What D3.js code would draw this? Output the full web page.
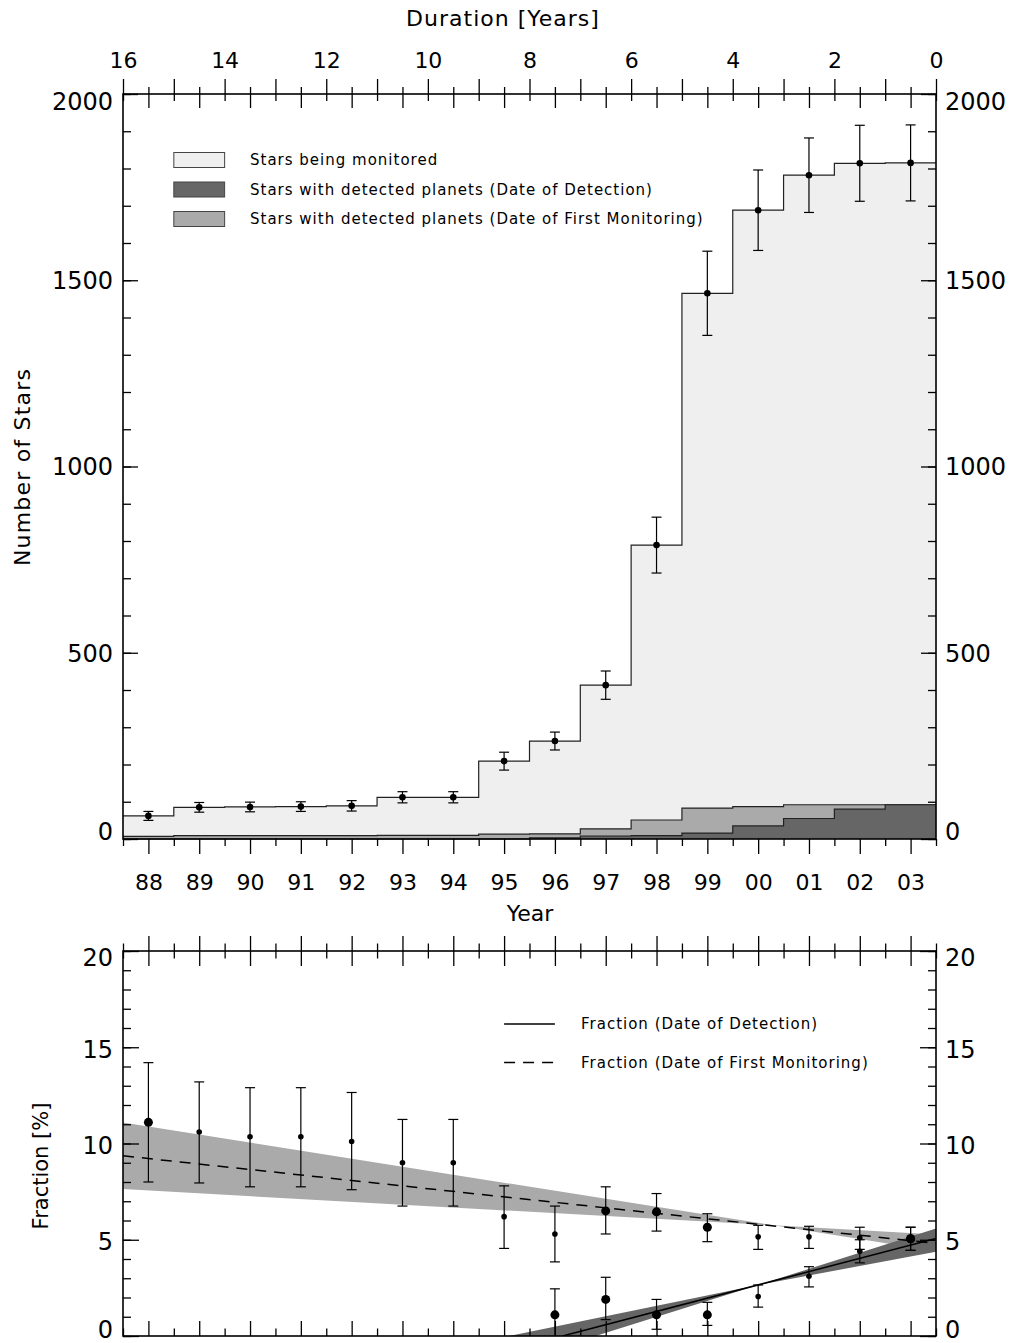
<!DOCTYPE html>
<html>
<head>
<meta charset="utf-8">
<script src="https://cdn.jsdelivr.net/npm/d3@7"></script>
<style>
body { margin: 0; background: #fff; }
text { font-family: "DejaVu Sans", sans-serif; fill: #000; }
</style>
</head>
<body>
<script>
// year bins (19xx / 20xx as 88..103)
var years = [88, 89, 90, 91, 92, 93, 94, 95, 96, 97, 98, 99, 100, 101, 102, 103];
var yearLabels = ["88", "89", "90", "91", "92", "93", "94", "95", "96", "97", "98", "99", "00", "01", "02", "03"];

// top panel: counts
var monitored    = [62, 85, 86, 87, 89, 112, 112, 209, 263, 413, 789, 1465, 1688, 1782, 1814, 1815];
var monitoredErr = [12, 13, 13, 13, 14, 15, 15, 24, 24, 38, 75, 113, 108, 100, 102, 102];
var firstMon     = [7, 9, 9, 9, 9, 10, 10, 13, 14, 27, 51, 83, 87, 92, 92, 92];
var detected     = [0, 0, 0, 0, 0, 0, 0, 0, 3, 8, 9, 16, 35, 55, 80, 92];

// bottom panel: fractions [%]
var fracMon   = [11.1, 10.6, 10.35, 10.35, 10.1, 9.0, 9.0, 6.2, 5.3, 6.5, 6.45, 5.65, 5.15, 5.15, 5.1, 5.05];
var fracMonHi = [14.2, 13.2, 12.9, 12.9, 12.65, 11.25, 11.25, 7.8, 6.75, 7.75, 7.4, 6.35, 5.75, 5.7, 5.65, 5.65];
var fracMonLo = [8.0, 7.95, 7.75, 7.75, 7.6, 6.75, 6.75, 4.55, 3.85, 5.3, 5.45, 4.9, 4.5, 4.55, 4.5, 4.45];
var bigMon = [88, 97, 98, 99, 103];

var detYears  = [96, 97, 98, 99, 100, 101, 102, 103];
var fracDet   = [1.1, 1.9, 1.1, 1.1, 2.05, 3.1, 4.4, 5.05];
var fracDetHi = [2.45, 3.05, 1.9, 1.75, 2.65, 3.6, 5.0, 5.65];
var fracDetLo = [-0.25, 0.85, 0.35, 0.55, 1.5, 2.55, 3.8, 4.45];
var bigDet = [96, 97, 98, 99, 103];

// fitted trends and their bands (year, percent)
var monFit      = [[87.5, 9.36], [103.5, 4.81]];
var monBandUp   = [[87.5, 11.09], [100.3, 5.75], [103.5, 5.27]];
var monBandLow  = [[87.5, 7.63], [100.3, 5.75], [103.5, 4.4]];
var detFit      = [[96.15, 0], [103.5, 5.07]];
var detBandUp   = [[95.1, 0], [100.0, 2.65], [103.5, 5.58]];
var detBandLow  = [[96.8, 0], [100.0, 2.65], [103.5, 4.38]];

var countTicks = [0, 500, 1000, 1500, 2000];
var fracTicks = [0, 5, 10, 15, 20];
var durTicks = [16, 14, 12, 10, 8, 6, 4, 2, 0];

var topLegend = ["Stars being monitored",
  "Stars with detected planets (Date of Detection)",
  "Stars with detected planets (Date of First Monitoring)"];
var topLegendFill = ["#efefef", "#666666", "#aaaaaa"];
var botLegend = ["Fraction (Date of Detection)", "Fraction (Date of First Monitoring)"];

var W = 1012, H = 1343;
var svg = d3.select("body").append("svg").attr("width", W).attr("height", H);

var x = d3.scaleLinear().domain([87.5, 103.5]).range([123, 936]);
var dur = d3.scaleLinear().domain([16, 0]).range([123, 936]);
var yTop = d3.scaleLinear().domain([0, 2000]).range([839, 94]);
var yBot = d3.scaleLinear().domain([0, 20]).range([1336, 951]);

var edges = d3.range(87.5, 104, 1);
var halfDur = d3.range(0.5, 16, 1);
var intDur = d3.range(0, 17, 1);

function noDomain(g) { g.select(".domain").remove(); g.selectAll("line").attr("stroke", "#000").attr("stroke-width", 1.3); }

// ---------- top panel ----------
function stepData(vals) {
  var d = years.map(function(y, i) { return { x: y - 0.5, v: vals[i] }; });
  d.push({ x: 103.5, v: vals[vals.length - 1] });
  return d;
}
var area = d3.area().curve(d3.curveStepAfter)
  .x(function(d) { return x(d.x); }).y0(yTop(0)).y1(function(d) { return yTop(d.v); });
var line = d3.line().curve(d3.curveStepAfter)
  .x(function(d) { return x(d.x); }).y(function(d) { return yTop(d.v); });

[[monitored, "#efefef"], [firstMon, "#aaaaaa"], [detected, "#666666"]].forEach(function(s) {
  svg.append("path").attr("d", area(stepData(s[0]))).attr("fill", s[1]);
  svg.append("path").attr("d", line(stepData(s[0]))).attr("fill", "none")
    .attr("stroke", "#222").attr("stroke-width", 1.2);
});

// error bars on monitored counts
var eb = svg.append("g").attr("stroke", "#000").attr("stroke-width", 1.2);
years.forEach(function(y, i) {
  var cx = x(y), lo = yTop(monitored[i] - monitoredErr[i]), hi = yTop(monitored[i] + monitoredErr[i]);
  eb.append("line").attr("x1", cx).attr("x2", cx).attr("y1", lo).attr("y2", hi);
  eb.append("line").attr("x1", cx - 5).attr("x2", cx + 5).attr("y1", lo).attr("y2", lo);
  eb.append("line").attr("x1", cx - 5).attr("x2", cx + 5).attr("y1", hi).attr("y2", hi);
  svg.append("circle").attr("cx", cx).attr("cy", yTop(monitored[i])).attr("r", 3.3).attr("fill", "#000");
});

// frame
svg.append("rect").attr("x", 123).attr("y", 94).attr("width", 813).attr("height", 745)
  .attr("fill", "none").attr("stroke", "#000").attr("stroke-width", 1.6);

// bottom year axis (outward)
svg.append("g").attr("transform", "translate(0,839)")
  .call(d3.axisBottom(x).tickValues(years).tickSize(15).tickPadding(20)
    .tickFormat(function(d, i) { return yearLabels[i]; }))
  .call(noDomain).selectAll("text").attr("font-size", 22);
svg.append("g").attr("transform", "translate(0,839)")
  .call(d3.axisBottom(x).tickValues(edges).tickSize(7).tickFormat("")).call(noDomain);

// top: year ticks inward, duration ticks outward
svg.append("g").attr("transform", "translate(0,94)")
  .call(d3.axisTop(x).tickValues(years).tickSize(-14).tickFormat("")).call(noDomain);
svg.append("g").attr("transform", "translate(0,94)")
  .call(d3.axisTop(x).tickValues(edges).tickSize(-7).tickFormat("")).call(noDomain);
svg.append("g").attr("transform", "translate(0,94)")
  .call(d3.axisTop(dur).tickValues(intDur).tickSize(15).tickFormat("")).call(noDomain);
svg.append("g").attr("transform", "translate(0,94)")
  .call(d3.axisTop(dur).tickValues(halfDur).tickSize(7).tickFormat("")).call(noDomain);
svg.append("g").attr("transform", "translate(0,94)")
  .call(d3.axisTop(dur).tickValues(durTicks).tickSize(0).tickPadding(26).tickFormat(d3.format("d")))
  .call(noDomain).selectAll("text").attr("font-size", 22);

// count axes (inward ticks)
function countAxis(side, xpos) {
  var ax = side === "left" ? d3.axisLeft(yTop) : d3.axisRight(yTop);
  svg.append("g").attr("transform", "translate(" + xpos + ",0)")
    .call(ax.tickValues(d3.range(0, 2001, 100)).tickSize(-8).tickFormat("")).call(noDomain);
  var ax2 = side === "left" ? d3.axisLeft(yTop) : d3.axisRight(yTop);
  var g = svg.append("g").attr("transform", "translate(" + xpos + ",0)")
    .call(ax2.tickValues(countTicks).tickSize(-15).tickPadding(side === "left" ? 10 : 9).tickFormat(d3.format("d")))
    .call(noDomain);
  g.selectAll("text").attr("font-size", 24)
    .attr("dy", function(d) { return d === 0 ? "0.0em" : d === 2000 ? "0.65em" : "0.35em"; });
}
countAxis("left", 123);
countAxis("right", 936);

// top legend
topLegend.forEach(function(t, i) {
  var yy = 160 + i * 29.5;
  svg.append("rect").attr("x", x(88.5)).attr("y", yy - 7.5).attr("width", x(89.5) - x(88.5)).attr("height", 15)
    .attr("fill", topLegendFill[i]).attr("stroke", "#444").attr("stroke-width", 1);
  svg.append("text").attr("x", 250).attr("y", yy + 5).attr("font-size", 15)
    .attr("letter-spacing", 1.0).text(t);
});

// titles
svg.append("text").attr("x", 503).attr("y", 26).attr("text-anchor", "middle").attr("font-size", 22)
  .attr("letter-spacing", 1).text("Duration [Years]");
svg.append("text").attr("x", 530).attr("y", 921).attr("text-anchor", "middle").attr("font-size", 22).text("Year");
svg.append("text").attr("transform", "translate(30,467) rotate(-90)").attr("text-anchor", "middle")
  .attr("font-size", 22).attr("letter-spacing", 1.2).text("Number of Stars");
svg.append("text").attr("transform", "translate(48,1166) rotate(-90)").attr("text-anchor", "middle")
  .attr("font-size", 21).text("Fraction [%]");

// ---------- bottom panel ----------
svg.append("clipPath").attr("id", "botclip").append("rect")
  .attr("x", 123).attr("y", 951).attr("width", 813).attr("height", 385);
var bot = svg.append("g").attr("clip-path", "url(#botclip)");

function band(up, low) {
  var pts = up.concat(low.slice().reverse());
  return "M" + pts.map(function(p) { return x(p[0]) + "," + yBot(p[1]); }).join("L") + "Z";
}
bot.append("path").attr("d", band(monBandUp, monBandLow)).attr("fill", "#aaaaaa");
bot.append("path").attr("d", band(detBandUp, detBandLow)).attr("fill", "#666666");

var fitLine = d3.line().x(function(p) { return x(p[0]); }).y(function(p) { return yBot(p[1]); });
bot.append("path").attr("d", fitLine(monFit)).attr("fill", "none").attr("stroke", "#000")
  .attr("stroke-width", 1.5).attr("stroke-dasharray", "11,8");
bot.append("path").attr("d", fitLine(detFit)).attr("fill", "none").attr("stroke", "#000").attr("stroke-width", 1.5);

function points(ys, v, lo, hi, big) {
  ys.forEach(function(y, i) {
    var cx = x(y), a = yBot(lo[i]), b = yBot(hi[i]);
    var g = bot.append("g").attr("stroke", "#000").attr("stroke-width", 1.2);
    g.append("line").attr("x1", cx).attr("x2", cx).attr("y1", a).attr("y2", b);
    g.append("line").attr("x1", cx - 5).attr("x2", cx + 5).attr("y1", a).attr("y2", a);
    g.append("line").attr("x1", cx - 5).attr("x2", cx + 5).attr("y1", b).attr("y2", b);
    bot.append("circle").attr("cx", cx).attr("cy", yBot(v[i]))
      .attr("r", big.indexOf(y) >= 0 ? 4.5 : 2.8).attr("fill", "#000");
  });
}
points(years, fracMon, fracMonLo, fracMonHi, bigMon);
points(detYears, fracDet, fracDetLo, fracDetHi, bigDet);

svg.append("rect").attr("x", 123).attr("y", 951).attr("width", 813).attr("height", 385)
  .attr("fill", "none").attr("stroke", "#000").attr("stroke-width", 1.6);

// x ticks: bottom inward, top crossing
[[years, 15], [edges, 7.5]].forEach(function(t) {
  svg.append("g").attr("transform", "translate(0,1336)")
    .call(d3.axisBottom(x).tickValues(t[0]).tickSize(-t[1]).tickFormat("")).call(noDomain);
  svg.append("g").attr("transform", "translate(0,951)")
    .call(d3.axisTop(x).tickValues(t[0]).tickSize(t[1]).tickFormat("")).call(noDomain);
  svg.append("g").attr("transform", "translate(0,951)")
    .call(d3.axisTop(x).tickValues(t[0]).tickSize(-t[1]).tickFormat("")).call(noDomain);
});

function fracAxis(side, xpos) {
  var ax = side === "left" ? d3.axisLeft(yBot) : d3.axisRight(yBot);
  svg.append("g").attr("transform", "translate(" + xpos + ",0)")
    .call(ax.tickValues(d3.range(0, 21, 1)).tickSize(-8).tickFormat("")).call(noDomain);
  var ax2 = side === "left" ? d3.axisLeft(yBot) : d3.axisRight(yBot);
  svg.append("g").attr("transform", "translate(" + xpos + ",0)")
    .call(ax2.tickValues(fracTicks).tickSize(-16).tickPadding(side === "left" ? 10 : 9).tickFormat(d3.format("d")))
    .call(noDomain)
    .selectAll("text").attr("font-size", 24)
    .attr("dy", function(d) { return d === 0 ? "0.05em" : d === 20 ? "0.62em" : "0.42em"; });
}
fracAxis("left", 123);
fracAxis("right", 936);

// bottom legend
botLegend.forEach(function(t, i) {
  var yy = 1024 + i * 38.5;
  svg.append("line").attr("x1", x(95)).attr("x2", x(96)).attr("y1", yy).attr("y2", yy)
    .attr("stroke", "#000").attr("stroke-width", 1.5).attr("stroke-dasharray", i === 1 ? "11,8" : null);
  svg.append("text").attr("x", 581).attr("y", yy + 5).attr("font-size", 15)
    .attr("letter-spacing", 1.0).text(t);
});
</script>
</body>
</html>
